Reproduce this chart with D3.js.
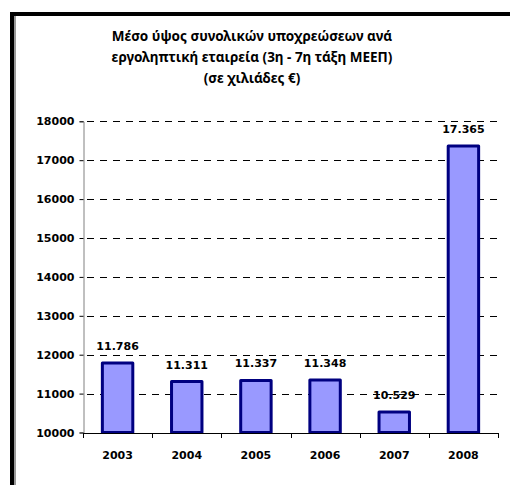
<!DOCTYPE html>
<html lang="el">
<head>
<meta charset="utf-8">
<title>Μέσο ύψος συνολικών υποχρεώσεων</title>
<script src="https://cdn.jsdelivr.net/npm/d3@7"></script>
<style>
  body { margin: 0; background: #fff; }
  text { font-family: "DejaVu Sans", Verdana, sans-serif; font-weight: bold; fill: #000; }
</style>
</head>
<body>
<script>
// data
var years = ["2003", "2004", "2005", "2006", "2007", "2008"];
var values = [11786, 11311, 11337, 11348, 10529, 17365];
var yTicks = [10000, 11000, 12000, 13000, 14000, 15000, 16000, 17000, 18000];
var titleLines = ["Μέσο ύψος συνολικών υποχρεώσεων ανά",
                  "εργοληπτική εταιρεία (3η - 7η τάξη ΜΕΕΠ)",
                  "(σε χιλιάδες €)"];

var w = 510, h = 485;
var plotLeft = 83, plotRight = 498, plotTop = 121.3, plotBottom = 432.5;

var svg = d3.select("body").append("svg")
    .attr("width", w)
    .attr("height", h);

// frame (top and left only, as in the picture)
svg.append("rect").attr("x", 14).attr("y", 16).attr("width", 2).attr("height", h)
    .attr("fill", "#999");
svg.append("rect").attr("x", 10).attr("y", 12).attr("width", 4).attr("height", h)
    .attr("fill", "#000");
svg.append("rect").attr("x", 10).attr("y", 12).attr("width", w).attr("height", 4)
    .attr("fill", "#000");

// title
svg.append("g").selectAll("text")
    .data(titleLines)
    .enter()
    .append("text")
    .attr("x", 252)
    .attr("y", function(d, i) { return 41 + i * 21; })
    .attr("text-anchor", "middle")
    .style("font-family", "'Noto Sans', sans-serif")
    .style("font-size", "13.5px")
    .text(function(d) { return d; });

var x = d3.scaleBand()
    .domain(years)
    .range([plotLeft, plotRight])
    .paddingInner(0.56)
    .paddingOuter(0.28);

var y = d3.scaleLinear()
    .domain([10000, 18000])
    .range([plotBottom, plotTop]);

// gridlines
svg.append("g").selectAll("line")
    .data(yTicks.slice(1))
    .enter()
    .append("line")
    .attr("x1", plotLeft)
    .attr("x2", plotRight)
    .attr("y1", function(d) { return Math.round(y(d)) + 0.5; })
    .attr("y2", function(d) { return Math.round(y(d)) + 0.5; })
    .attr("stroke", "#000")
    .attr("stroke-width", 1)
    .attr("stroke-dasharray", "7,6")
    .attr("stroke-dashoffset", -4);

// y axis
var yAxis = svg.append("g")
    .attr("transform", "translate(" + (plotLeft + 0.5) + ",0)")
    .call(d3.axisLeft(y).tickValues(yTicks).tickSize(4).tickPadding(5)
        .tickFormat(function(d) { return d; }));
yAxis.select(".domain").attr("stroke", "#808080");
yAxis.selectAll(".tick line").attr("stroke", "#000");
yAxis.selectAll("text").style("font-size", "11px");

// bars
svg.append("g").selectAll("rect")
    .data(values)
    .enter()
    .append("rect")
    .attr("x", function(d, i) { return x(years[i]); })
    .attr("y", function(d) { return y(d); })
    .attr("width", x.bandwidth())
    .attr("height", function(d) { return plotBottom - y(d); })
    .attr("fill", "#9999ff")
    .attr("stroke", "#000080")
    .attr("stroke-width", 3)
    .attr("stroke-linejoin", "round");

// x axis line and boundary ticks
svg.append("line")
    .attr("x1", plotLeft).attr("x2", plotRight + 1)
    .attr("y1", Math.round(plotBottom) + 0.5).attr("y2", Math.round(plotBottom) + 0.5)
    .attr("stroke", "#000");
svg.append("g").selectAll("line")
    .data(d3.range(years.length + 1))
    .enter()
    .append("line")
    .attr("x1", function(i) { return Math.round(plotLeft + i * x.step()) + 0.5; })
    .attr("x2", function(i) { return Math.round(plotLeft + i * x.step()) + 0.5; })
    .attr("y1", Math.round(plotBottom))
    .attr("y2", Math.round(plotBottom) + 5)
    .attr("stroke", "#000");

// category labels
svg.append("g").selectAll("text")
    .data(years)
    .enter()
    .append("text")
    .attr("x", function(d) { return x(d) + x.bandwidth() / 2; })
    .attr("y", 459)
    .attr("text-anchor", "middle")
    .style("font-size", "11px")
    .text(function(d) { return d; });

// value labels
svg.append("g").selectAll("text")
    .data(values)
    .enter()
    .append("text")
    .attr("x", function(d, i) { return x(years[i]) + x.bandwidth() / 2; })
    .attr("y", function(d) { return y(d) - 13; })
    .attr("text-anchor", "middle")
    .style("font-size", "11px")
    .text(function(d) { return d3.format(",")(d).replace(",", "."); });
</script>
</body>
</html>
